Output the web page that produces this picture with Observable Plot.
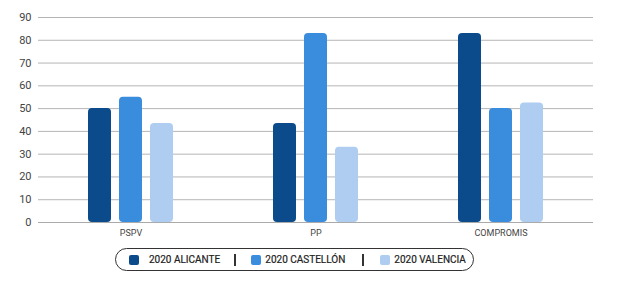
<!DOCTYPE html>
<html>
<head>
<meta charset="utf-8">
<script src="https://cdn.jsdelivr.net/npm/d3@7"></script>
<script src="https://cdn.jsdelivr.net/npm/@observablehq/plot@0.6"></script>
<style>
  html, body { margin: 0; padding: 0; background: #fff; }
  #wrap { position: relative; width: 625px; height: 282px; font-family: Roboto, sans-serif; }
  #legend {
    position: absolute; left: 115px; top: 248px; width: 357px; height: 21px;
    border: 1.5px solid #333; border-radius: 12px;
    display: flex; align-items: center; font-size: 10px; font-weight: 400; color: #222;
    box-sizing: content-box; white-space: nowrap;
  }
  .sw { width: 10px; height: 10px; border-radius: 2px; display: inline-block; margin-right: 10px; flex: none; }
  .item { display: flex; align-items: center; white-space: nowrap; flex: none; -webkit-text-stroke: 0.2px #222; }
  .sep { width: 2px; height: 12px; background: #333; display: inline-block; flex: none; }
</style>
</head>
<body>
<div id="wrap">
  <div id="chart"></div>
  <div id="legend"></div>
</div>
<script>
const parties = ["PSPV", "PP", "COMPROMIS"];
const cities = ["2020 ALICANTE", "2020 CASTELLÓN", "2020 VALENCIA"];
const colors = ["#0b4a8b", "#3a8ddd", "#aecdf0"];
const alicante = [50, 43.5, 83];
const castellon = [55, 83, 50];
const valencia = [43.5, 33, 52.5];
const yTicks = [0, 10, 20, 30, 40, 50, 60, 70, 80, 90];

const series = [alicante, castellon, valencia];
const data = [];
parties.forEach((p, i) => cities.forEach((c, j) => data.push({party: p, city: c, value: series[j][i]})));

const chart = Plot.plot({
  width: 625,
  height: 240,
  marginLeft: 37,
  marginRight: 31,
  marginTop: 17,
  marginBottom: 18,
  style: {fontFamily: "Roboto, sans-serif", fontSize: "10px", color: "#444", background: "#fff"},
  fx: {domain: parties, padding: 0, label: null, tickSize: 0, tickPadding: 7, axis: "bottom"},
  x: {domain: cities, paddingInner: 0.26, paddingOuter: 1.6, axis: null},
  y: {domain: [0, 90], ticks: yTicks, tickSize: 0, tickPadding: 7, label: null},
  color: {domain: cities, range: colors},
  marks: [
    Plot.ruleY(yTicks, {stroke: "#b5b5b5", strokeWidth: 1}),
    Plot.barY(data, {fx: "party", x: "city", y: "value", fill: "city", rx: 4}),
    Plot.ruleY([0], {stroke: "#aaa", strokeWidth: 1.2})
  ]
});
chart.querySelectorAll("text").forEach(t => { t.style.fill = "#444"; });
document.getElementById("chart").appendChild(chart);

chart.querySelectorAll("[aria-label='y-axis tick label'] text, g[aria-label='y-axis'] text").forEach(t => t.setAttribute("font-size", "11"));
chart.querySelectorAll("[aria-label='fx-axis tick label'] text, g[aria-label='fx-axis'] text").forEach(t => t.setAttribute("font-size", "9"));

const legend = document.getElementById("legend");
cities.forEach((c, i) => {
  if (i > 0) {
    const s = document.createElement("span");
    s.className = "sep";
    s.style.margin = i === 1 ? "0 15px 0 14px" : "0 16px 0 17px";
    legend.appendChild(s);
  } else {
    legend.appendChild(Object.assign(document.createElement("span"), {style: "width:13px;display:inline-block;flex:none"}));
  }
  const item = document.createElement("span");
  item.className = "item";
  const sw = document.createElement("span");
  sw.className = "sw"; sw.style.background = colors[i];
  if (i > 0) sw.style.marginRight = "4px";
  item.appendChild(sw);
  item.appendChild(document.createTextNode(c));
  legend.appendChild(item);
});
</script>
</body>
</html>
